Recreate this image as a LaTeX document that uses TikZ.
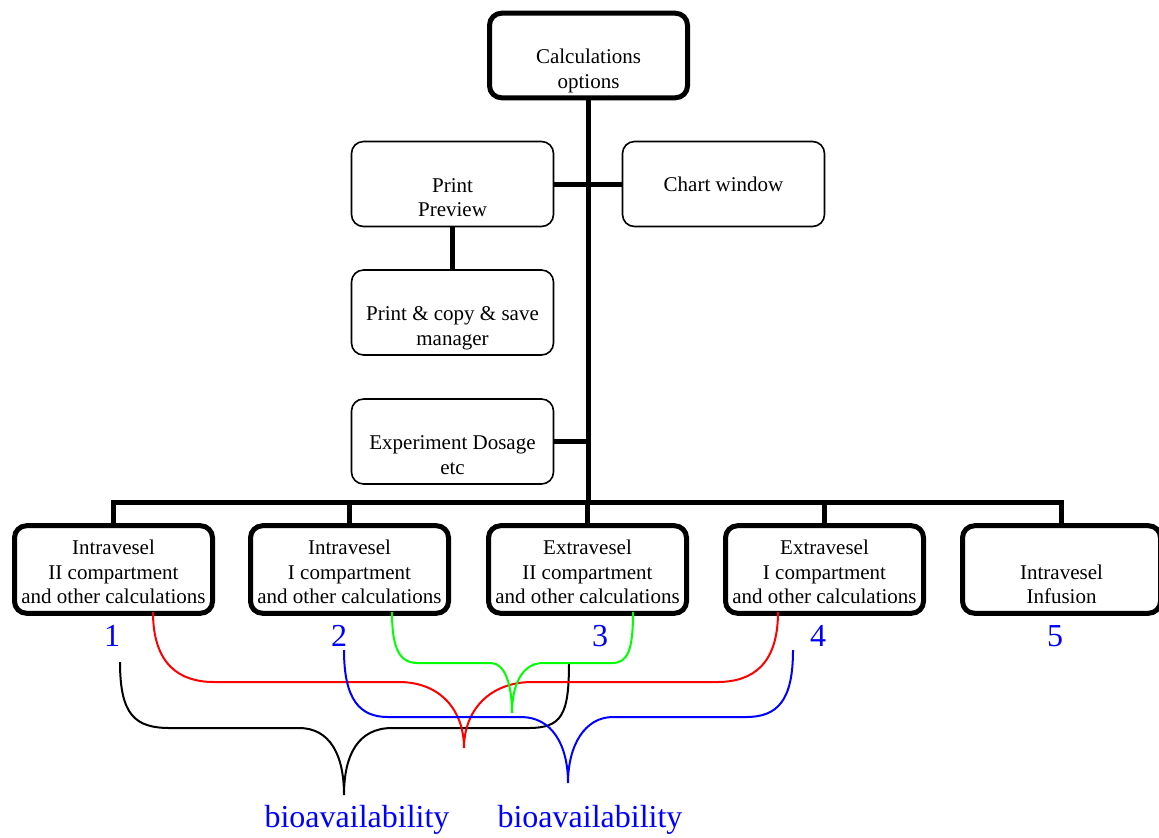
\documentclass[tikz,border=0pt]{standalone}
\usepackage{fontspec}
\setmainfont{Liberation Serif}
\usetikzlibrary{positioning}
\newcommand{\lowpair}[3][3.5pt]{\rule{0pt}{\dimexpr 8.6pt+#1\relax}\\#2\strut\\#3\strut}
\newcommand{\threelines}[3]{\rule{0pt}{13.6pt}#1\\#2\strut\\#3\strut}
\begin{document}
\begin{tikzpicture}[x=0.5pt, y=-0.5pt,
	box/.style={draw, rounded corners=6pt, align=center, inner sep=1pt,
			font=\fontsize{10.5}{12.25}\selectfont},
	thinbox/.style={box, line width=0.8pt, minimum width=101pt, minimum height=42.5pt},
	thickbox/.style={box, line width=2.5pt, minimum width=99pt, minimum height=40.5pt},
	link/.style={line width=2.5pt},
	num/.style={text=blue, inner sep=0pt, font=\fontsize{16}{18}\selectfont},
	tie/.style={line width=1pt}]
	\useasboundingbox (0,0) rectangle (1159,837);

	% menu boxes
	\node[thickbox] (calc) at (588.5,55.5) {\lowpair{Calculations}{options}};
	\node[thinbox] (prev) at (452.5,184) {\lowpair{Print}{Preview}};
	\node[thinbox] (chart) at (723.5,184) {Chart window};
	\node[thinbox] (save) at (452.5,312.5) {\lowpair{Print \& copy \& save}{manager}};
	\node[thinbox] (dose) at (452.5,441.5) {\lowpair{Experiment Dosage}{etc}};

	% calculation boxes
	\node[thickbox] (b1) at (113.5,569.5) {\threelines{Intravesel}{II compartment}{and other calculations}};
	\node[thickbox] (b2) at (349.5,569.5) {\threelines{Intravesel}{I compartment}{and other calculations}};
	\node[thickbox] (b3) at (587.5,569.5) {\threelines{Extravesel}{II compartment}{and other calculations}};
	\node[thickbox] (b4) at (824.5,569.5) {\threelines{Extravesel}{I compartment}{and other calculations}};
	\node[thickbox] (b5) at (1061.5,569.5) {\lowpair[5pt]{Intravesel}{Infusion}};

	\node[num] (n1) at (112,636) {1};
	\node[num] (n2) at (339,636) {2};
	\node[num] (n3) at (600,636) {3};
	\node[num] (n4) at (818,636) {4};
	\node[num] (n5) at (1055,636) {5};

	\node[num] (bio1) at (357,820) {bioavailability};
	\node[num] (bio2) at (590,820) {bioavailability};

	% tree lines
	\coordinate (bus) at (0,502);
	\draw[link] (calc.south) -- (calc.south |- bus);
	\draw[link] (prev.east) -- (chart.west);
	\draw[link] (prev.south) -- (save.north);
	\draw[link] (dose.east) -- (dose.east -| calc.south);
	\draw[link] (b1.north) -- (b1.north |- bus) -- (b5.north |- bus) -- (b5.north);
	\foreach \b in {b2,b3,b4}
		\draw[link] (\b.north) -- (\b.north |- bus);

	% braces
	\draw[tie] (120,662) .. controls (120,715) and (135,728) .. (170,728) -- (299,728)
		.. controls (330,728) and (344,755) .. (344,795)
		.. controls (344,755) and (358,728) .. (392,728) -- (528,728)
		.. controls (562,728) and (569,715) .. (569,662);
	\draw[tie, red] (153,612) .. controls (153,665) and (180,682) .. (214,682) -- (399,682)
		.. controls (440,682) and (464,710) .. (464,748)
		.. controls (464,710) and (490,682) .. (532,682) -- (717,682)
		.. controls (752,682) and (778,665) .. (778,612);
	\draw[tie, green] (392,612) .. controls (392,650) and (400,663) .. (418,663) -- (491,663)
		.. controls (505,663) and (512,685) .. (512,713)
		.. controls (512,685) and (522,663) .. (543,663) -- (612,663)
		.. controls (628,663) and (633,650) .. (633,612);
	\draw[tie, blue] (344,650) .. controls (344,700) and (360,717) .. (388,717) -- (521,717)
		.. controls (552,717) and (568,745) .. (568,783)
		.. controls (568,745) and (585,717) .. (613,717) -- (746,717)
		.. controls (778,717) and (793,700) .. (793,650);
\end{tikzpicture}
\end{document}
